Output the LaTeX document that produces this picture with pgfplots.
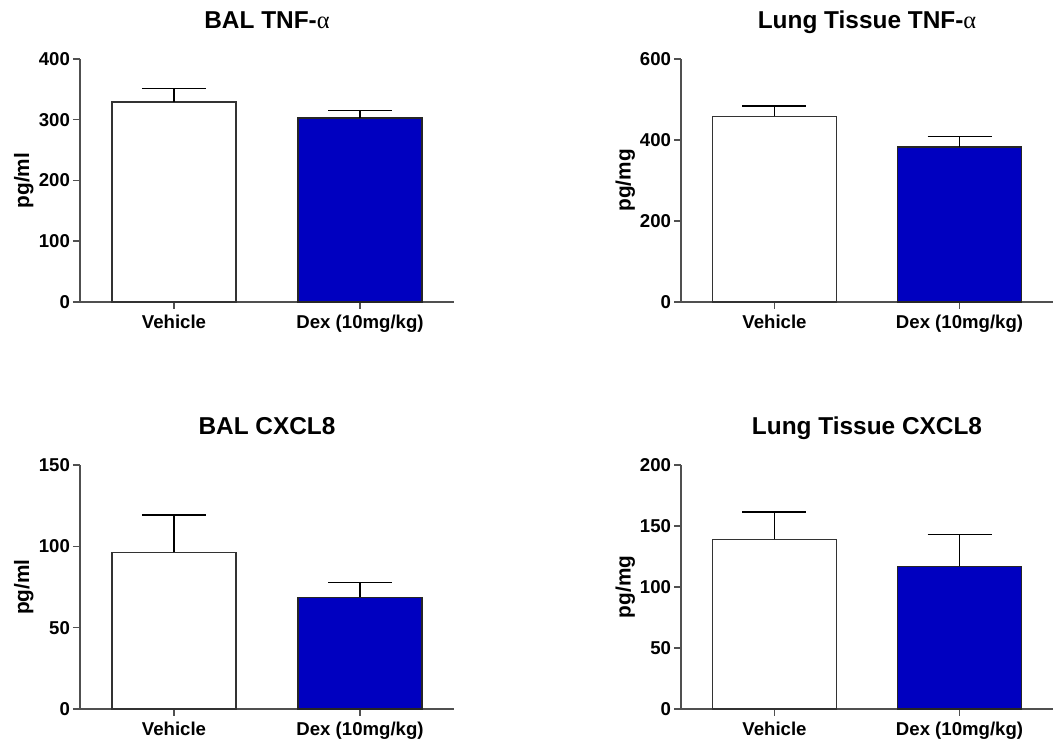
\documentclass[border=0pt]{standalone}
\usepackage{fontspec}
\setmainfont{Liberation Sans}
\newfontfamily\greek{Liberation Serif}
\usepackage{pgfplots}
\pgfplotsset{compat=1.18}
\definecolor{dexblue}{RGB}{0,0,192}
\definecolor{axgray}{RGB}{80,80,80}
\pgfplotsset{
 panel/.style={
  scale only axis, anchor=south west,
  xmin=-0.505, xmax=1.505, ymin=0,
  axis x line*=bottom, axis y line*=left,
  axis line style={-, draw=axgray, line width=0.75pt},
  tick style={draw=axgray, line width=0.75pt},
  tick align=outside, major tick length=3.5pt,
  minor tick num=0,
  xtick={0,1}, xticklabels={Vehicle, Dex (10mg/kg)},
  /pgf/number format/assume math mode=true,
  ticklabel style={font=\fontsize{9.3}{11}\selectfont\bfseries},
  yticklabel style={xshift=2pt},
  xticklabel style={yshift=0.5pt},
  every axis y label/.style={at={(axis description cs:-0.15,0.5)}, rotate=90, anchor=center, font=\fontsize{10.4}{12}\selectfont\bfseries},
  every axis title/.style={at={(axis description cs:0.5,1)}, anchor=base, yshift=15.25pt, font=\fontsize{12.2}{14}\selectfont\bfseries},
  bar width=62pt,
  clip=false,
 },
 vbar/.style={ybar, bar shift=0pt, fill=white, draw=black!80, line width=0.7pt,
   error bars/.cd, y dir=plus, y explicit, error mark options={rotate=90, mark size=16pt, line width=0.7pt, black}, error bar style={line width=0.7pt, black}},
 dbar/.style={ybar, bar shift=0pt, fill=dexblue, draw=black!85, line width=0.7pt,
   error bars/.cd, y dir=plus, y explicit, error mark options={rotate=90, mark size=16pt, line width=0.7pt, black}, error bar style={line width=0.7pt, black}},
}
\begin{document}
\begin{tikzpicture}
\path[use as bounding box] (0,0) rectangle (527pt,371pt);
% Panel 1
\begin{axis}[panel, at={(40pt,220pt)}, width=187pt, height=121.5pt,
  ymax=400, ytick={0,100,200,300,400}, ylabel={pg/ml},
  title={BAL TNF-{\greek\mdseries α}}]
\addplot[vbar] coordinates {(0,329) +- (0,22)};
\addplot[dbar] coordinates {(1,303) +- (0,12)};
\end{axis}
% Panel 2
\begin{axis}[panel, at={(340.5pt,220pt)}, width=186pt, height=121.5pt,
  ymax=600, ytick={0,200,400,600}, ylabel={pg/mg},
  title={Lung Tissue TNF-{\greek\mdseries α}}]
\addplot[vbar] coordinates {(0,458) +- (0,26)};
\addplot[dbar] coordinates {(1,383) +- (0,26)};
\end{axis}
% Panel 3
\begin{axis}[panel, at={(40pt,16.5pt)}, width=187pt, height=122pt,
  ymax=150, ytick={0,50,100,150}, ylabel={pg/ml},
  title={BAL CXCL8}]
\addplot[vbar] coordinates {(0,96.3) +- (0,23)};
\addplot[dbar] coordinates {(1,68.7) +- (0,9)};
\end{axis}
% Panel 4
\begin{axis}[panel, at={(340.5pt,16.5pt)}, width=186pt, height=122pt,
  ymax=200, ytick={0,50,100,150,200}, ylabel={pg/mg},
  title={Lung Tissue CXCL8}]
\addplot[vbar] coordinates {(0,139) +- (0,22.5)};
\addplot[dbar] coordinates {(1,117) +- (0,26)};
\end{axis}
\end{tikzpicture}
\end{document}
